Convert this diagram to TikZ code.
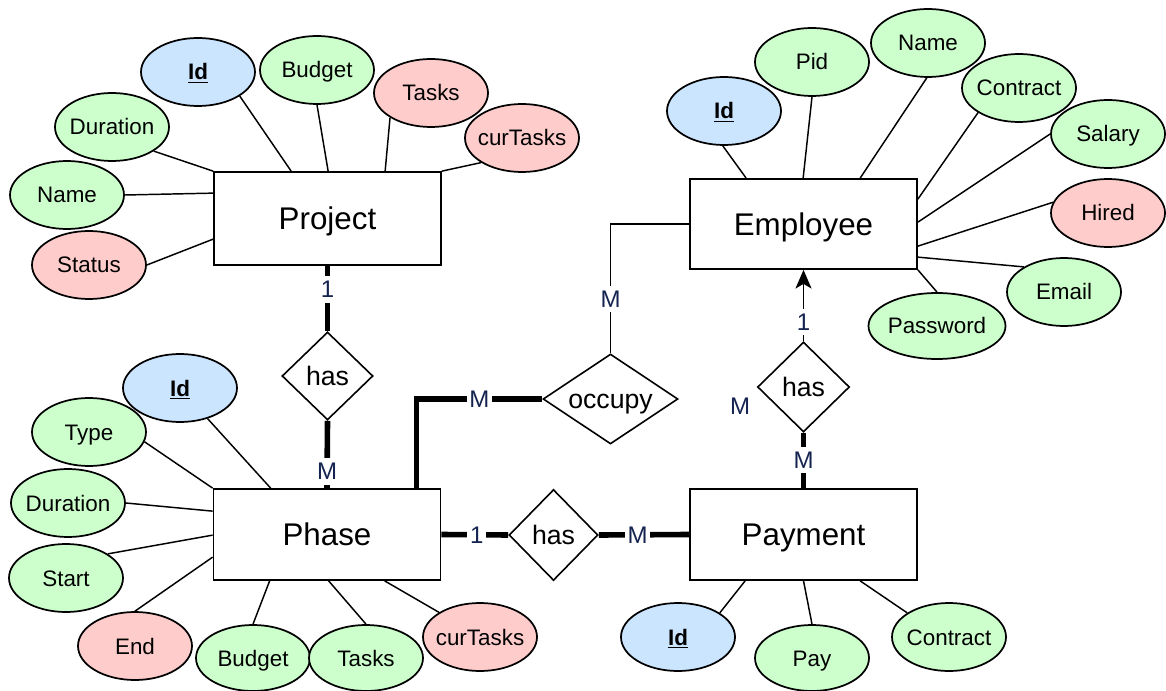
\documentclass[tikz,border=0pt]{standalone}
\usepackage{fontspec}
\setmainfont{Liberation Sans}
\usetikzlibrary{shapes.geometric,arrows.meta,calc}
\definecolor{kblue}{HTML}{CCE5FF}
\definecolor{kgreen}{HTML}{CCFFCC}
\definecolor{kred}{HTML}{FFCCCC}
\definecolor{cardtext}{RGB}{20,35,80}
\newcommand{\zw}[1]{\makebox[0pt]{#1}}
\newcommand{\keyid}{\zw{\textbf{\underline{Id}}}}
\begin{document}
\begin{tikzpicture}[x=0.75pt,y=-0.75pt,
  entity/.style={draw, line width=1.3pt, minimum width=170.25pt, minimum height=68.25pt, inner sep=0pt, font=\fontsize{23.5}{26}\selectfont, text height=16.8pt, text depth=0pt},
  attr/.style={ellipse, draw, line width=1.3pt, minimum width=85.5pt, minimum height=51pt, inner sep=0pt, font=\fontsize{16.8}{19}\selectfont, text height=12pt, text depth=0pt},
  keyattr/.style={attr, fill=kblue},
  normattr/.style={attr, fill=kgreen},
  derived/.style={attr, fill=kred},
  rel/.style={diamond, draw, line width=1.2pt, inner sep=0pt, font=\fontsize{20}{22}\selectfont, text height=14.3pt, text depth=0pt},
  conn/.style={line width=1.1pt},
  strong/.style={line width=4.2pt},
  card/.style={fill=white, inner xsep=2pt, inner ysep=3.5pt, font=\fontsize{18}{20}\selectfont, text=cardtext, text height=12.9pt, text depth=0pt},
]
\useasboundingbox[fill=white] (0,0) rectangle (1166,691);

% entities
\node[entity, minimum height=69.75pt] (proj) at (327.5,218.5) {Project};
\node[entity, minimum height=67.5pt] (emp) at (803.5,224) {Employee};
\node[entity] (phase) at (327,534.5) {Phase};
\node[entity] (pay) at (803.5,534.5) {Payment};

% relationships
\node[rel, minimum width=68.25pt, minimum height=66pt] (has1) at (327.5,376) {\zw{has}};
\node[rel, minimum width=101.25pt, minimum height=67.5pt] (occ) at (610.5,399) {\zw{occupy}};
\node[rel, minimum width=66.75pt, minimum height=68.25pt] (has2) at (553.5,535) {\zw{has}};
\node[rel, minimum width=69pt, minimum height=67.5pt] (has3) at (803.5,387) {\zw{has}};

% Project attributes
\node[keyattr] (pid) at (198,72) {\keyid};
\node[normattr] (pbud) at (317,70) {\zw{Budget}};
\node[derived] (ptask) at (431,93) {\zw{Tasks}};
\node[derived] (pcur) at (522,138) {\zw{curTasks}};
\node[normattr] (pdur) at (112,127) {\zw{Duration}};
\node[normattr] (pname) at (67,195) {\zw{Name}};
\node[derived] (pstat) at (89,265) {\zw{Status}};

% Employee attributes
\node[keyattr] (eid) at (724,111) {\keyid};
\node[normattr] (epid) at (812,62) {\zw{Pid}};
\node[normattr] (ename) at (928,43) {\zw{Name}};
\node[normattr] (econ) at (1019,88) {\zw{Contract}};
\node[normattr] (esal) at (1108,134) {\zw{Salary}};
\node[derived] (ehir) at (1108,213) {\zw{Hired}};
\node[normattr] (eema) at (1064,292) {\zw{Email}};
\node[normattr, minimum width=102.75pt, minimum height=49.5pt] (epas) at (937,326) {\zw{Password}};

% Phase attributes
\node[keyattr] (fid) at (180,388) {\keyid};
\node[normattr] (ftyp) at (89,432) {\zw{Type}};
\node[normattr] (fdur) at (68,503) {\zw{Duration}};
\node[normattr] (fsta) at (66,578) {\zw{Start}};
\node[derived] (fend) at (135,646) {\zw{End}};
\node[normattr, minimum height=49.5pt] (fbud) at (253,658) {\zw{Budget}};
\node[normattr, minimum height=49.5pt] (ftas) at (366,658) {\zw{Tasks}};
\node[derived] (fcur) at (480,637) {\zw{curTasks}};

% Payment attributes
\node[keyattr] (yid) at (678,637) {\keyid};
\node[normattr, minimum height=49.5pt] (ypay) at (812,658) {\zw{Pay}};
\node[normattr] (ycon) at (949,637) {\zw{Contract}};

% Project attribute links
\draw[conn] (pid.330) -- ($(proj.north west)+(78,0)$);
\draw[conn] (pbud.270) -- ($(proj.north west)+(115,0)$);
\draw[conn] (ptask.211) -- ($(proj.north west)+(172,0)$);
\draw[conn] (pcur.211) -- (proj.north east);
\draw[conn] (pdur.330) -- (proj.north west);
\draw[conn] (pname.0) -- ($(proj.north west)+(0,22)$);
\draw[conn] (pstat.0) -- ($(proj.north west)+(0,68)$);

% Employee attribute links
\draw[conn] (eid.268) -- ($(emp.north west)+(57,0)$);
\draw[conn] (epid.270) -- ($(emp.north west)+(114,0)$);
\draw[conn] (ename.268) -- ($(emp.north west)+(171,0)$);
\draw[conn] (econ.211) -- ($(emp.north east)+(0,21)$);
\draw[conn] (esal.180) -- ($(emp.north east)+(0,44)$);
\draw[conn] (ehir.169) -- ($(emp.north east)+(0,68)$);
\draw[conn] (eema.148) -- ($(emp.north east)+(0,79)$);
\draw[conn] (epas.90) -- (emp.south east);

% Phase attribute links
\draw[conn] (fid.312) -- ($(phase.north west)+(58,0)$);
\draw[conn] (ftyp.350) -- (phase.north west);
\draw[conn] (fdur.0) -- ($(phase.north west)+(0,23)$);
\draw[conn] (fsta.30) -- ($(phase.north west)+(0,47)$);
\draw[conn] (fend.90) -- ($(phase.north west)+(0,69)$);
\draw[conn] (fbud.90) -- ($(phase.south west)+(57,0)$);
\draw[conn] (ftas.90) -- ($(phase.south west)+(116,0)$);
\draw[conn] (fcur.149) -- ($(phase.south west)+(172,0)$);

% Payment attribute links
\draw[conn] (yid.30) -- ($(pay.south west)+(56,0)$);
\draw[conn] (ypay.90) -- (pay.south);
\draw[conn] (ycon.150) -- ($(pay.south west)+(171,0)$);

% relationship links
\draw[strong] (proj.south) -- node[card,pos=0.36]{1} (has1.north);
\draw[strong] (has1.south) -- node[card,pos=0.75]{M} (phase.north);
\draw[strong] ($(phase.north west)+(204,0)$) |- node[card,pos=0.75]{M} (occ.west);
\draw[conn] (emp.west) -| node[card,pos=0.79]{M} (occ.north);
\draw[conn,-{Stealth[length=14pt,width=12pt,inset=3.5pt]}] (has3.north) -- node[card,pos=0.27]{1} (emp.south);
\draw[strong] (has3.south) -- node[card,pos=0.49]{M} (pay.north);
\draw[strong] (phase.east) -- node[card,pos=0.53]{1} (has2.west);
\draw[strong] (has2.east) -- node[card,pos=0.43]{M} (pay.west);
\node[card, fill=none] (mlone) at (740,406) {M};
\end{tikzpicture}
\end{document}
